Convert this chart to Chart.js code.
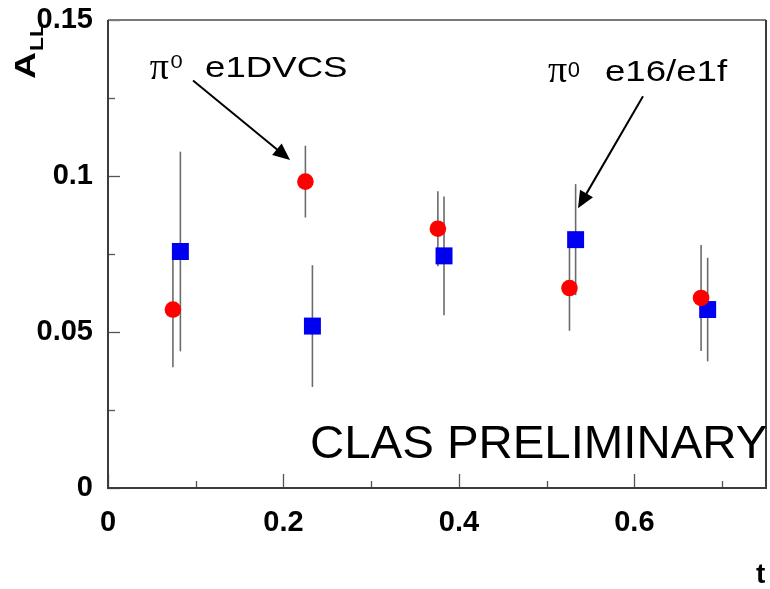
<!DOCTYPE html>
<html><head><meta charset="utf-8">
<script src="https://cdn.jsdelivr.net/npm/chart.js@4.4.1/dist/chart.umd.min.js"></script>
<style>html,body{margin:0;padding:0;background:#fff;}canvas{display:block;}</style>
</head><body>
<canvas id="c" width="770" height="589"></canvas>
<script>
// ---- data ----
const seriesNames = ['e1DVCS', 'e16/e1f'];
const e1dvcsT   = [0.074, 0.225, 0.376, 0.526, 0.676];
const e1dvcsA   = [0.0572, 0.0982, 0.0831, 0.0641, 0.0609];
const e1dvcsErr = [0.0185, 0.0115, 0.0120, 0.0137, 0.0170];
const e16T      = [0.0825, 0.233, 0.383, 0.533, 0.6835];
const e16A      = [0.0758, 0.0519, 0.0744, 0.0796, 0.0572];
const e16Err    = [0.0320, 0.0195, 0.0190, 0.0178, 0.0166];
const xTickValues = [0, 0.1, 0.2, 0.3, 0.4, 0.5, 0.6, 0.7];
const xTickLabels = ['0', '', '0.2', '', '0.4', '', '0.6', ''];
const yTickValues = [0, 0.025, 0.05, 0.075, 0.1, 0.125, 0.15];
const yTickLabels = ['0', '', '0.05', '', '0.1', '', '0.15'];
const xTitle = 't';
const yTitleMain = 'A';
const yTitleSub = 'LL';
const watermark = 'CLAS PRELIMINARY';

const SANS = '"Liberation Sans", Arial, Helvetica, sans-serif';
const SERIF = '"Liberation Serif", "DejaVu Serif", serif';

const errs = [e1dvcsErr, e16Err];

const errorBars = {
  id: 'errorBars',
  beforeDatasetsDraw(chart) {
    const ctx = chart.ctx, xs = chart.scales.x, ys = chart.scales.y;
    ctx.save();
    ctx.strokeStyle = '#6b6b6b';
    ctx.lineWidth = 1.6;
    chart.data.datasets.forEach((ds, di) => {
      ds.data.forEach((p, i) => {
        const px = xs.getPixelForValue(p.x);
        ctx.beginPath();
        ctx.moveTo(px, ys.getPixelForValue(p.y - errs[di][i]));
        ctx.lineTo(px, ys.getPixelForValue(p.y + errs[di][i]));
        ctx.stroke();
      });
    });
    ctx.restore();
  }
};

function stretchedText(ctx, s, x, y, font, sx) {
  ctx.save();
  ctx.font = font;
  ctx.translate(x, y);
  ctx.scale(sx, 1);
  ctx.fillText(s, 0, 0);
  ctx.restore();
}
function arrow(ctx, x1, y1, x2, y2) {
  const ang = Math.atan2(y2 - y1, x2 - x1);
  const L = 17, W = 7.5;
  ctx.beginPath();
  ctx.moveTo(x1, y1);
  ctx.lineTo(x2 - L * 0.8 * Math.cos(ang), y2 - L * 0.8 * Math.sin(ang));
  ctx.stroke();
  ctx.beginPath();
  ctx.moveTo(x2, y2);
  ctx.lineTo(x2 - L * Math.cos(ang) + W * Math.sin(ang), y2 - L * Math.sin(ang) - W * Math.cos(ang));
  ctx.lineTo(x2 - L * Math.cos(ang) - W * Math.sin(ang), y2 - L * Math.sin(ang) + W * Math.cos(ang));
  ctx.closePath();
  ctx.fill();
}

const frameAndText = {
  id: 'frameAndText',
  afterDraw(chart) {
    const ctx = chart.ctx, xs = chart.scales.x, ys = chart.scales.y;
    const a = chart.chartArea;
    const X = v => xs.getPixelForValue(v), Y = v => ys.getPixelForValue(v);
    ctx.save();
    // inward tick marks
    ctx.strokeStyle = '#555';
    ctx.lineWidth = 1.3;
    xTickValues.forEach((v, i) => {
      const len = xTickLabels[i] ? 14 : 7;
      const px = Math.round(X(v)) + 0.5;
      ctx.beginPath(); ctx.moveTo(px, a.bottom); ctx.lineTo(px, a.bottom - len); ctx.stroke();
    });
    yTickValues.forEach((v, i) => {
      const len = yTickLabels[i] ? 12 : 7;
      const py = Math.round(Y(v)) + 0.5;
      ctx.beginPath(); ctx.moveTo(a.left, py); ctx.lineTo(a.left + len, py); ctx.stroke();
    });
    // frame
    ctx.lineWidth = 2;
    ctx.strokeStyle = '#7a7a7a';
    ctx.beginPath(); ctx.moveTo(a.left, a.top); ctx.lineTo(a.right, a.top); ctx.stroke();
    ctx.strokeStyle = '#3c3c3c';
    ctx.beginPath(); ctx.moveTo(a.left, a.top); ctx.lineTo(a.left, a.bottom); ctx.lineTo(a.right, a.bottom); ctx.lineTo(a.right, a.top); ctx.stroke();

    ctx.fillStyle = '#000';
    ctx.strokeStyle = '#000';
    ctx.textBaseline = 'alphabetic';
    ctx.textAlign = 'left';
    // annotation 1 (e1DVCS)
    stretchedText(ctx, 'π', X(0.0475), Y(0.1310), '38px ' + SERIF, 1.0);
    stretchedText(ctx, '0', X(0.0711), Y(0.1345), '19px ' + SANS, 1.15);
    stretchedText(ctx, seriesNames[0], X(0.1107), Y(0.1316), '30px ' + SANS, 1.22);
    // annotation 2 (e16/e1f)
    stretchedText(ctx, 'π', X(0.5015), Y(0.1300), '38px ' + SERIF, 1.0);
    stretchedText(ctx, '0', X(0.524), Y(0.1318), '22px ' + SANS, 1.0);
    stretchedText(ctx, seriesNames[1], X(0.5665), Y(0.1305), '30px ' + SANS, 1.22);
    ctx.lineWidth = 2;
    arrow(ctx, X(0.0969), Y(0.1306), X(0.2075), Y(0.1051));
    arrow(ctx, X(0.6098), Y(0.1256), X(0.5357), Y(0.0897));
    // watermark
    stretchedText(ctx, watermark, X(0.2302), Y(0.0096), '46px ' + SANS, 1.03);
    // axis titles
    stretchedText(ctx, xTitle, 756, 583, 'bold 28px ' + SANS, 1.0);
    ctx.save();
    ctx.translate(35, 79);
    ctx.rotate(-Math.PI / 2);
    ctx.save(); ctx.scale(1.25, 1);
    ctx.font = 'bold 30px ' + SANS;
    ctx.fillText(yTitleMain, 0, 0);
    ctx.restore();
    ctx.save(); ctx.translate(28, 8); ctx.scale(1.2, 1);
    ctx.font = 'bold 19px ' + SANS;
    ctx.fillText(yTitleSub, 0, 0);
    ctx.restore();
    ctx.restore();
    ctx.restore();
  }
};

const toPts = (xs, ys) => xs.map((x, i) => ({ x, y: ys[i] }));
const noPad = s => { s.paddingTop = 0; s.paddingBottom = 0; s.paddingLeft = 0; s.paddingRight = 0; };

new Chart(document.getElementById('c'), {
  type: 'scatter',
  data: {
    datasets: [
      { label: seriesNames[0], data: toPts(e1dvcsT, e1dvcsA), pointStyle: 'circle', pointRadius: 8.3,
        backgroundColor: '#ff0000', borderColor: '#ff0000', borderWidth: 0, pointHoverRadius: 8.3, clip: false },
      { label: seriesNames[1], data: toPts(e16T, e16A), pointStyle: 'rect', pointRadius: 12,
        backgroundColor: '#0000f0', borderColor: '#0000f0', borderWidth: 0, pointHoverRadius: 12, clip: false }
    ]
  },
  options: {
    responsive: false,
    animation: false,
    devicePixelRatio: 1,
    layout: { autoPadding: false, padding: { top: 20, right: 4, left: 0, bottom: 0 } },
    plugins: { legend: { display: false }, tooltip: { enabled: false } },
    scales: {
      x: {
        type: 'linear', min: 0, max: 0.75,
        afterBuildTicks: s => { s.ticks = xTickValues.map(v => ({ value: v })); },
        afterFit: s => { s.height = 101; noPad(s); },
        grid: { display: false, drawTicks: false, tickLength: 0 },
        border: { display: false },
        ticks: { autoSkip: false, maxRotation: 0, padding: 18, color: '#000',
          font: { family: SANS, size: 29, weight: 'bold' },
          callback: (v, i) => xTickLabels[i] }
      },
      y: {
        type: 'linear', min: 0, max: 0.15,
        afterBuildTicks: s => { s.ticks = yTickValues.map(v => ({ value: v })); },
        afterFit: s => { s.width = 108; noPad(s); },
        grid: { display: false, drawTicks: false, tickLength: 0 },
        border: { display: false },
        ticks: { autoSkip: false, padding: 15, color: '#000',
          font: { family: SANS, size: 29, weight: 'bold' },
          callback: (v, i) => yTickLabels[i] }
      }
    }
  },
  plugins: [errorBars, frameAndText]
});
</script>
</body></html>
